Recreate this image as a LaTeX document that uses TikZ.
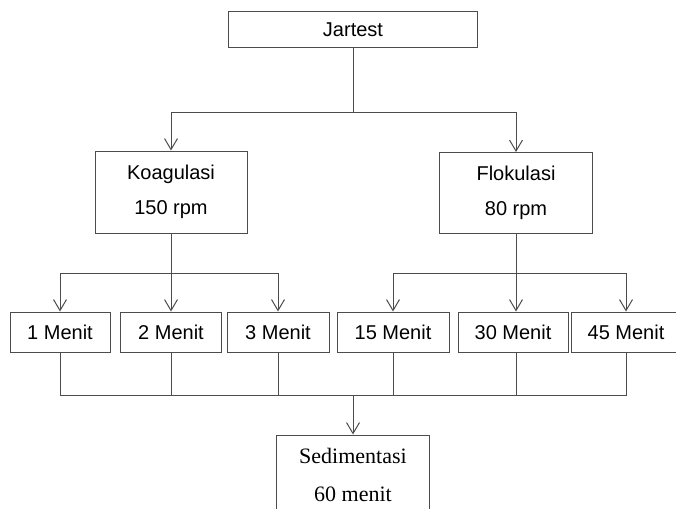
\documentclass[tikz,border=0pt]{standalone}
\usepackage{fontspec}
\setmainfont{Liberation Sans}
\newfontfamily\sedfont{Liberation Serif}
\usetikzlibrary{arrows.meta}

\begin{document}
\begin{tikzpicture}
[
	x=1pt,y=-1pt,
	bx/.style={rectangle,draw=black!70,line width=1pt,inner sep=0pt,align=center,font=\fontsize{20}{35}\selectfont},
	ln/.style={draw=black!70,line width=1pt},
	arr/.style={ln,-{Straight Barb[length=11pt,width=13pt]}}
]
\useasboundingbox (0,0) rectangle (676,508);

\node[bx,minimum width=249,minimum height=36] (jar) at (353,30) {Jartest};

\node[bx,minimum width=152,minimum height=82] (koag) at (171,192) {Koagulasi\\150 rpm};
\node[bx,minimum width=153,minimum height=81] (flok) at (516,193) {Flokulasi\\80 rpm};

\node[bx,minimum width=100,minimum height=40] (m1)  at (60,332)  {1 Menit};
\node[bx,minimum width=101,minimum height=40] (m2)  at (171,332) {2 Menit};
\node[bx,minimum width=102,minimum height=40] (m3)  at (278,332) {3 Menit};
\node[bx,minimum width=112,minimum height=40] (m15) at (393,332) {15 Menit};
\node[bx,minimum width=110,minimum height=40] (m30) at (513,332) {30 Menit};
\node[bx,minimum width=110,minimum height=40] (m45) at (626,332) {45 Menit};

\node[bx,minimum width=153,minimum height=80,font=\sedfont\fontsize{22}{38}\selectfont] (sed) at (353,475) {Sedimentasi\\60 menit};

\coordinate (top) at (353,112);
\coordinate (ka)  at (171,273);
\coordinate (kb)  at (516,273);
\coordinate (bot) at (353,395);

\draw[ln]  (jar)  --  (top);
\draw[arr] (top)  -|  (koag);
\draw[arr] (top)  -|  (flok);

\draw[ln]  (koag) --  (ka);
\draw[arr] (ka)   -|  (m1);
\draw[arr] (ka)   --  (m2);
\draw[arr] (ka)   -|  (m3);

\draw[ln]  (flok) --  (kb);
\draw[arr] (kb)   -|  (m15);
\draw[arr] (kb)   --  (kb |- m30.north);
\draw[arr] (kb)   -|  (m45);

\draw[ln] (m1)  |- (bot);
\draw[ln] (m2)  |- (bot);
\draw[ln] (m3)  |- (bot);
\draw[ln] (m15) |- (bot);
\draw[ln] (m30.south -| kb) |- (bot);
\draw[ln] (m45) |- (bot);

\draw[arr] (bot) -- (sed);

\end{tikzpicture}
\end{document}
